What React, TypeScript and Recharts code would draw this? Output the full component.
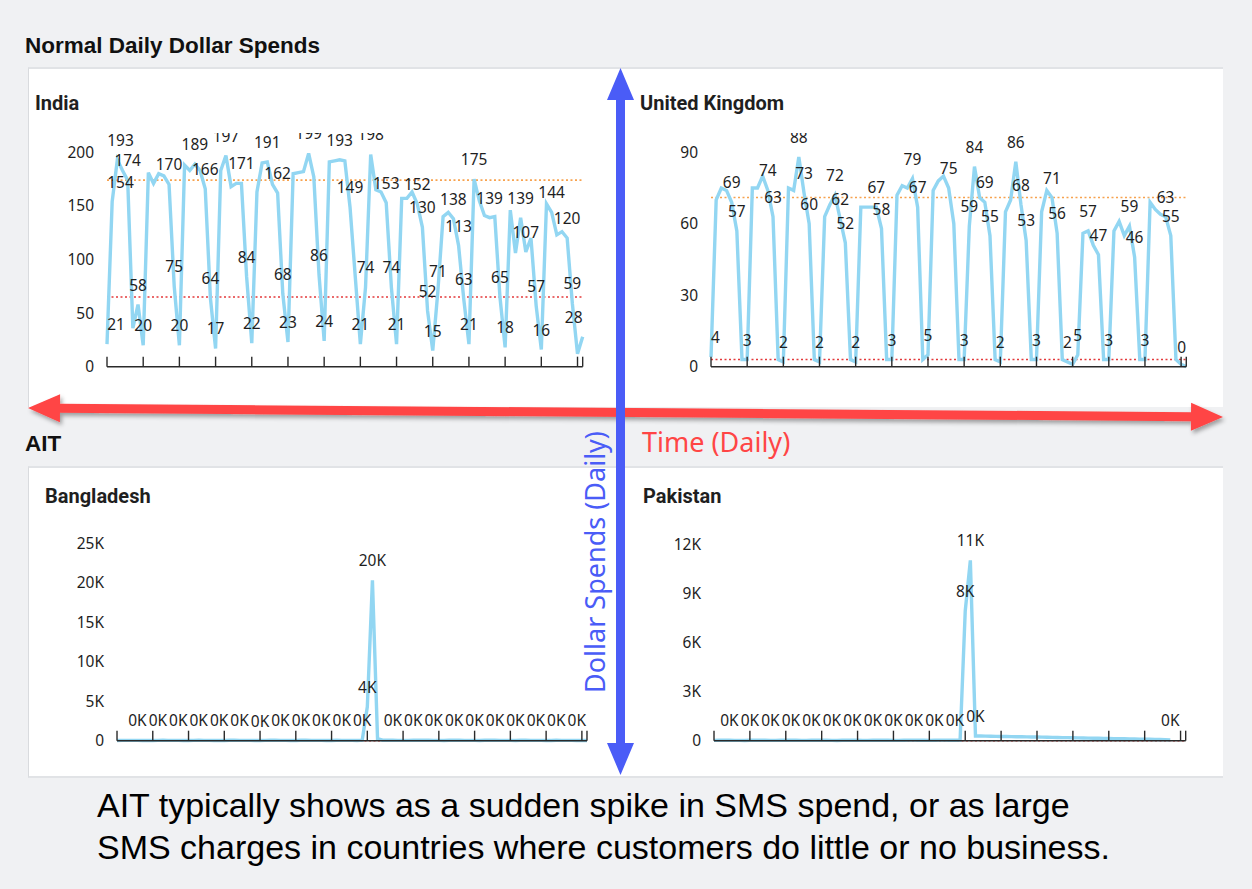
import React from 'react';
import { LineChart, Line, XAxis, YAxis, ReferenceLine, LabelList } from 'recharts';

// day index 0..92 (93 daily points), week ticks plus the last day
const weekTicks = [0, 7, 14, 21, 28, 35, 42, 49, 56, 63, 70, 77, 84, 91, 92];

const indiaValues = [
  21, 154, 193, 183, 174, 36, 58, 20, 181, 171,
  180, 178, 170, 75, 20, 188, 183, 189, 183, 166,
  64, 17, 183, 197, 168, 171, 171, 84, 22, 163,
  190, 191, 170, 162, 68, 23, 180, 181, 182, 199,
  177, 86, 24, 191, 192, 193, 192, 149, 85, 21,
  74, 198, 165, 163, 153, 74, 21, 157, 157, 163,
  152, 130, 52, 15, 71, 140, 144, 138, 113, 63,
  21, 175, 155, 141, 139, 140, 65, 18, 146, 106,
  139, 107, 120, 57, 16, 152, 144, 123, 126, 120,
  59, 12, 28,
];
const indiaLabels = [0, 1, 2, 4, 6, 7, 12, 13, 14, 17, 19, 20, 21, 23, 26, 27, 28, 31, 33, 34, 35, 39, 41, 42, 45, 47, 49, 50, 51, 54, 55, 56, 60, 61, 62, 63, 64, 67, 68, 69, 70, 71, 74, 76, 77, 80, 81, 83, 84, 86, 89, 90, 92];

const ukValues = [
  4, 70, 75, 74, 69, 57, 3, 3, 75, 75,
  80, 74, 63, 3, 2, 75, 74, 88, 73, 60,
  3, 2, 63, 68, 72, 62, 52, 3, 2, 67,
  67, 67, 67, 58, 3, 3, 72, 76, 75, 79,
  67, 3, 5, 74, 78, 80, 75, 60, 3, 3,
  59, 84, 71, 69, 55, 3, 2, 65, 70, 86,
  68, 53, 3, 3, 65, 74, 71, 56, 3, 2,
  1, 5, 56, 57, 51, 47, 3, 3, 57, 61,
  55, 59, 46, 3, 3, 69, 66, 64, 63, 55,
  3, 1, 0,
];
const ukLabels = [0, 4, 5, 7, 11, 12, 14, 17, 18, 19, 21, 24, 25, 26, 28, 32, 33, 35, 39, 40, 42, 46, 49, 50, 51, 53, 54, 56, 59, 60, 61, 63, 66, 67, 69, 71, 73, 75, 77, 81, 82, 84, 88, 89, 92];

const bangladeshValues = [
  30, 40, 35, 45, 38, 30, 25, 20, 42, 50,
  44, 36, 40, 28, 22, 46, 52, 41, 37, 33,
  27, 21, 48, 55, 43, 39, 34, 26, 20, 45,
  51, 47, 40, 36, 29, 24, 49, 53, 44, 38,
  35, 28, 23, 50, 46, 42, 37, 30, 60, 4300,
  20300, 250, 60, 55, 50, 45, 40, 35, 60, 58,
  52, 47, 42, 38, 33, 56, 54, 49, 44, 40,
  36, 31, 55, 52, 47, 43, 39, 34, 30, 50,
  48, 45, 41, 37, 33, 29, 47, 44, 40, 36,
  32, 28, 25,
];
const bangladeshLabels = [4, 8, 12, 16, 20, 24, 28, 32, 36, 40, 44, 48, 49, 50, 54, 58, 62, 66, 70, 74, 78, 82, 86, 90];

const pakistanValues = [
  20, 25, 30, 28, 22, 18, 15, 24, 29, 31,
  27, 21, 17, 26, 30, 33, 28, 22, 19, 25,
  31, 29, 24, 20, 16, 27, 32, 30, 25, 21,
  18, 28, 33, 31, 26, 22, 19, 29, 34, 32,
  27, 23, 20, 30, 35, 33, 28, 24, 30, 7900,
  11000, 287, 282, 276, 272, 266, 260, 257, 250, 244,
  238, 232, 227, 221, 215, 208, 203, 196, 190, 184,
  178, 172, 166, 159, 153, 147, 140, 134, 128, 122,
  115, 109, 103, 96, 90, 84, 77, 70, 62, 50,
  null, null, null,
];
const pakistanLabels = [3, 7, 11, 15, 19, 23, 27, 31, 35, 39, 43, 47, 49, 50, 51, 89];

const indiaTicks = [0, 50, 100, 150, 200];
const ukTicks = [0, 30, 60, 90];
const bangladeshTicks = [0, 5000, 10000, 15000, 20000, 25000];
const pakistanTicks = [0, 3000, 6000, 9000, 12000];

const LINE = '#92d6f2';
const ORANGE = '#f7a24e';
const RED = '#e3383a';
const Y_W = 60;
const RIGHT = 20;
const BOTTOM = 20;
const NUM_FONT = "'Noto Sans', sans-serif";

const plain = (v: number) => String(v);
const kilo = (v: number) => (v === 0 ? '0' : `${v / 1000}K`);
const kiloLabel = (v: number) => `${Math.round(v / 1000)}K`;

type Box = { plotLeft: number; plotRight: number; plotTop: number; plotBottom: number; clipTop: number };

function SpendChart({ box, values, labelIdx, yMax, yTicks, upper, lower, tickFmt, labelFmt }: {
  box: Box; values: (number | null)[]; labelIdx: number[]; yMax: number; yTicks: number[];
  upper?: number; lower: number; tickFmt: (v: number) => string; labelFmt: (v: number) => string;
}) {
  const left = box.plotLeft - Y_W;
  const width = box.plotRight - left + RIGHT;
  const height = box.plotBottom - box.clipTop + BOTTOM;
  const data = values.map((v, i) => ({ day: i, v, lbl: labelIdx.includes(i) ? v : null }));

  // data labels sit ~20px above the point, pushed inside the plot at the edges
  const renderLabel = (props: any) => {
    const vb = props.viewBox || {};
    const x = props.x ?? vb.x;
    const y = props.y ?? vb.y;
    if (props.value == null || x == null || y == null) return null;
    const text = labelFmt(props.value);
    const half = text.length * 4.5;
    let cx = x;
    if (x - half < Y_W) cx = Y_W + half;
    if (x + half > width - RIGHT) cx = width - RIGHT - half;
    return (
      <text x={cx} y={y - 20} textAnchor="middle" dominantBaseline="central"
        fontFamily={NUM_FONT} fontSize={15.5} fill="#1e1e1e">{text}</text>
    );
  };

  return (
    <div style={{ position: 'absolute', left, top: box.clipTop, width, height, overflow: 'hidden' }}>
      <LineChart width={width} height={height} data={data}
        margin={{ top: box.plotTop - box.clipTop, right: RIGHT, bottom: BOTTOM, left: 0 }}>
        <XAxis type="number" dataKey="day" domain={[0, 92]} ticks={weekTicks} interval={0}
          mirror tickSize={10} tickFormatter={() => ''}
          axisLine={{ stroke: '#2a2a2a', strokeWidth: 1.6 }}
          tickLine={{ stroke: '#2a2a2a', strokeWidth: 1.4 }} />
        <YAxis type="number" domain={[0, yMax]} ticks={yTicks} width={Y_W} interval={0}
          axisLine={false} tickLine={false} tickSize={6} tickMargin={7}
          tickFormatter={tickFmt}
          tick={{ fontFamily: NUM_FONT, fontSize: 15.5, fill: '#1e1e1e' }} />
        {upper !== undefined && (
          <ReferenceLine y={upper} stroke={ORANGE} strokeWidth={1.6} strokeDasharray="2 2.5" />
        )}
        <ReferenceLine y={lower} stroke={RED} strokeWidth={1.6} strokeDasharray="2 2.5" />
        <Line type="linear" dataKey="v" stroke={LINE} strokeWidth={3.4} dot={false}
          isAnimationActive={false} connectNulls={false}>
          <LabelList dataKey="lbl" content={renderLabel} />
        </Line>
      </LineChart>
    </div>
  );
}

function arrowPoints(x1: number, y1: number, x2: number, y2: number, shaft: number, headLen: number, headHalf: number) {
  const dx = x2 - x1;
  const dy = y2 - y1;
  const len = Math.hypot(dx, dy);
  const ux = dx / len;
  const uy = dy / len;
  const nx = -uy;
  const ny = ux;
  const p = (t: number, s: number) => `${x1 + ux * t + nx * s},${y1 + uy * t + ny * s}`;
  return [
    p(0, 0), p(headLen, headHalf), p(headLen, shaft / 2), p(len - headLen, shaft / 2),
    p(len - headLen, headHalf), p(len, 0), p(len - headLen, -headHalf), p(len - headLen, -shaft / 2),
    p(headLen, -shaft / 2), p(headLen, -headHalf),
  ].join(' ');
}

export default function App() {
  const panel = {
    position: 'absolute' as const,
    left: 28,
    width: 1195,
    background: '#ffffff',
    borderTop: '2px solid #e1e3e6',
    borderLeft: '1px solid #d9dbde',
    boxSizing: 'border-box' as const,
  };
  const title = { fontFamily: 'Roboto, sans-serif', fontWeight: 700, fontSize: 20, fill: '#1f1f1f' };
  const heading = { fontFamily: "'Liberation Sans', Arial, sans-serif", fontWeight: 700, fontSize: 22.5, fill: '#111' };
  const caption = { fontFamily: "'Liberation Sans', Arial, sans-serif", fontSize: 34, fill: '#000' };

  return (
    <div style={{ position: 'absolute', left: 0, top: 0, width: 1252, height: 889, background: '#f0f1f3', overflow: 'hidden' }}>
      <div style={{ ...panel, top: 67, height: 340 }} />
      <div style={{ ...panel, top: 466, height: 312, borderBottom: '2px solid #e1e3e6' }} />

      <SpendChart box={{ plotLeft: 107.3, plotRight: 583, plotTop: 152.3, plotBottom: 366.7, clipTop: 133 }}
        values={indiaValues} labelIdx={indiaLabels} yMax={200} yTicks={indiaTicks}
        upper={174} lower={65} tickFmt={plain} labelFmt={plain} />
      <SpendChart box={{ plotLeft: 710.7, plotRight: 1186, plotTop: 152.3, plotBottom: 366.7, clipTop: 133 }}
        values={ukValues} labelIdx={ukLabels} yMax={90} yTicks={ukTicks}
        upper={71} lower={3} tickFmt={plain} labelFmt={plain} />
      <SpendChart box={{ plotLeft: 116.7, plotRight: 586.7, plotTop: 543.3, plotBottom: 740.7, clipTop: 520 }}
        values={bangladeshValues} labelIdx={bangladeshLabels} yMax={25000} yTicks={bangladeshTicks}
        lower={0} tickFmt={kilo} labelFmt={kiloLabel} />
      <SpendChart box={{ plotLeft: 714.3, plotRight: 1186, plotTop: 544, plotBottom: 740.7, clipTop: 520 }}
        values={pakistanValues} labelIdx={pakistanLabels} yMax={12000} yTicks={pakistanTicks}
        lower={0} tickFmt={kilo} labelFmt={kiloLabel} />

      <svg width={1252} height={889} style={{ position: 'absolute', left: 0, top: 0, pointerEvents: 'none' }}>
        <defs>
          <filter id="shadow" x="-5%" y="-50%" width="110%" height="200%">
            <feDropShadow dx="2" dy="3" stdDeviation="2" floodColor="#000" floodOpacity="0.35" />
          </filter>
        </defs>

        <text x={25} y={53} {...heading}>Normal Daily Dollar Spends</text>
        <text x={25} y={451} {...heading}>AIT</text>

        <text x={35} y={110} {...title}>India</text>
        <text x={640} y={110} {...title}>United Kingdom</text>
        <text x={45} y={503} {...title}>Bangladesh</text>
        <text x={643} y={503} {...title}>Pakistan</text>

        <polygon points={arrowPoints(28, 408, 1223, 417, 9, 32, 14)} fill="#ff4444" filter="url(#shadow)" />
        <polygon points={arrowPoints(620.5, 68, 620.5, 775, 9, 32, 13.5)} fill="#4a5cf7" />

        <text x={642} y={452} fontFamily={NUM_FONT} fontSize={27} fill="#ff4545">Time (Daily)</text>
        <text transform="translate(605,562) rotate(-90)" textAnchor="middle"
          fontFamily={NUM_FONT} fontSize={27} fill="#4a5cf7">Dollar Spends (Daily)</text>

        <text x={97} y={817} {...caption}>AIT typically shows as a sudden spike in SMS spend, or as large</text>
        <text x={97} y={859} {...caption}>SMS charges in countries where customers do little or no business.</text>
      </svg>
    </div>
  );
}
